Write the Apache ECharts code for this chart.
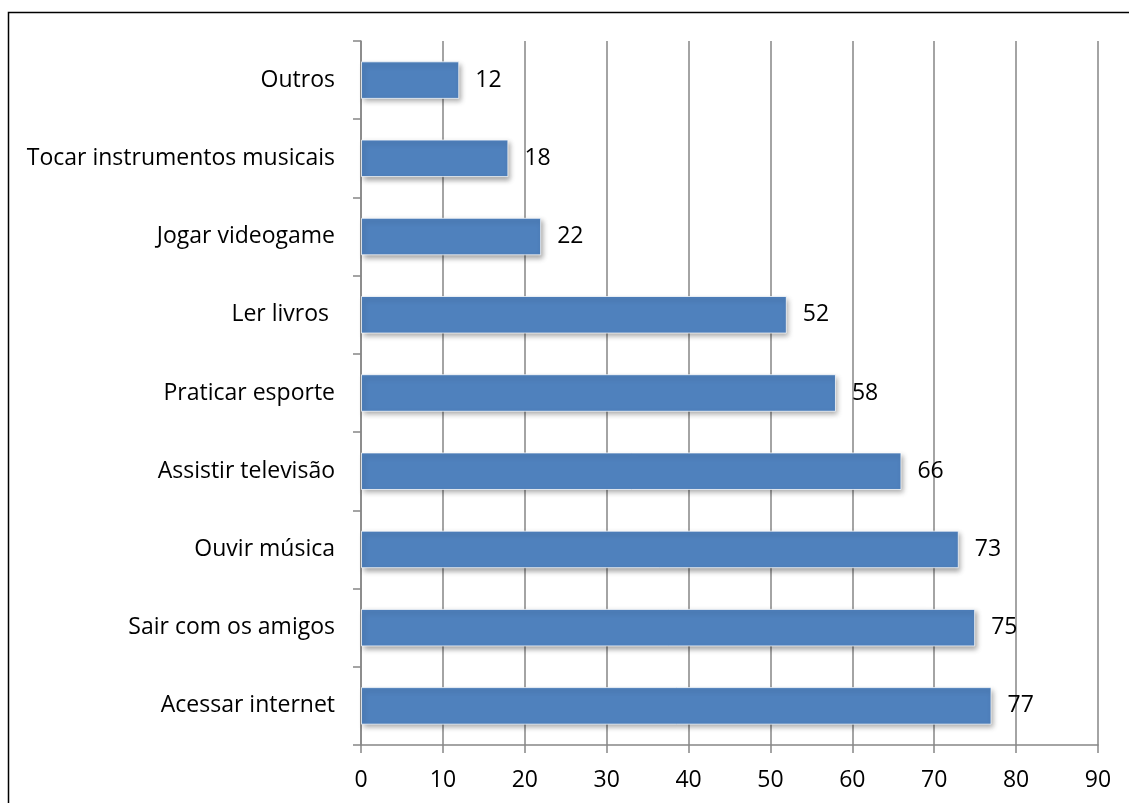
<!DOCTYPE html>
<html>
<head>
<meta charset="utf-8">
<script src="https://cdn.jsdelivr.net/npm/echarts@6/dist/echarts.min.js"></script>
<style>
  html, body { margin: 0; padding: 0; background: #ffffff; }
  #chart { width: 1129px; height: 803px; }
</style>
</head>
<body>
<div id="chart"></div>
<script>
// Activities, listed bottom to top as drawn on the category axis
const categories = [
  'Acessar internet',
  'Sair com os amigos',
  'Ouvir música',
  'Assistir televisão',
  'Praticar esporte',
  'Ler livros ',
  'Jogar videogame',
  'Tocar instrumentos musicais',
  'Outros'
];
const values = [77, 75, 73, 66, 58, 52, 22, 18, 12];
const xTicks = [0, 10, 20, 30, 40, 50, 60, 70, 80, 90];

const gridColor = '#868686';
const font = '"Open Sans", "Noto Sans", sans-serif';

const chart = echarts.init(document.getElementById('chart'), null, { renderer: 'canvas' });
chart.setOption({
  animation: false,
  backgroundColor: '#ffffff',
  graphic: [{
    type: 'rect',
    shape: { x: 8.5, y: 12.5, width: 1140, height: 820 },
    style: { fill: 'none', stroke: '#000000', lineWidth: 1.5 },
    silent: true
  }],
  grid: { left: 361, right: 31, top: 41, bottom: 58 },
  xAxis: {
    type: 'value',
    min: xTicks[0],
    max: xTicks[xTicks.length - 1],
    interval: 10,
    axisLine: { show: true, lineStyle: { color: gridColor, width: 1.5 } },
    axisTick: { show: true, length: 8, lineStyle: { color: gridColor, width: 1.5 } },
    axisLabel: { color: '#000000', fontSize: 23, fontFamily: font, margin: 24 },
    splitLine: { show: true, lineStyle: { color: gridColor, width: 1.5 } }
  },
  yAxis: {
    type: 'category',
    data: categories,
    axisLine: { show: true, lineStyle: { color: gridColor, width: 1.5 } },
    axisTick: { show: true, length: 8, alignWithLabel: false, lineStyle: { color: gridColor, width: 1.5 } },
    axisLabel: { color: '#000000', fontSize: 23, fontFamily: font, margin: 26 },
    splitLine: { show: false }
  },
  series: [{
    type: 'bar',
    data: values,
    barCategoryGap: '52%',
    itemStyle: {
      color: '#4F81BD',
      borderColor: 'rgba(255,255,255,0.75)',
      borderWidth: 1,
      shadowColor: 'rgba(0,0,0,0.35)',
      shadowBlur: 5,
      shadowOffsetX: 2,
      shadowOffsetY: 3
    },
    label: {
      show: true,
      position: 'right',
      distance: 16,
      color: '#000000',
      fontSize: 23,
      fontFamily: font
    }
  }]
});
</script>
</body>
</html>
